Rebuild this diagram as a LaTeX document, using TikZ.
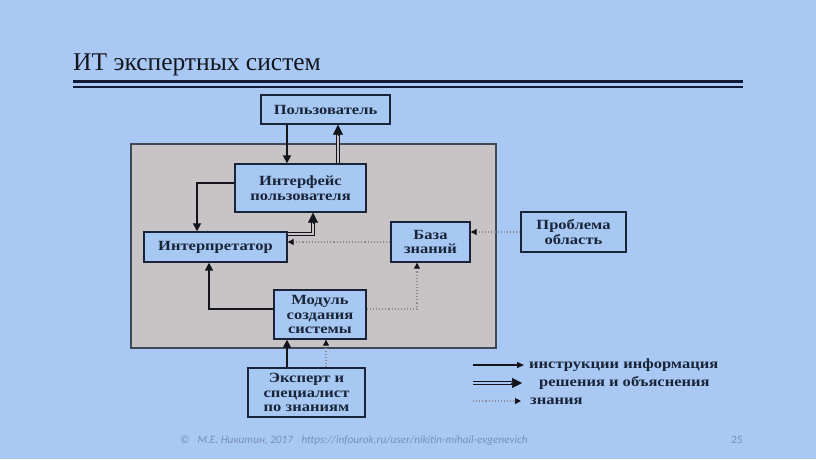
\documentclass[tikz,border=0pt]{standalone}
\usepackage{fontspec}
\setmainfont{Liberation Serif}
\newfontfamily\diagfont[FakeStretch=1.18]{Liberation Serif}
\newfontfamily\footfont{Carlito}
\usetikzlibrary{arrows.meta,calc}
\definecolor{slidebg}{RGB}{169,201,244}
\definecolor{boxfill}{RGB}{166,200,242}
\definecolor{sysgray}{RGB}{200,196,197}
\definecolor{boxline}{RGB}{26,36,56}
\definecolor{sysline}{RGB}{64,72,88}
\definecolor{arrowcol}{RGB}{20,20,28}
\definecolor{knowcol}{RGB}{140,140,150}
\definecolor{titlecol}{RGB}{20,22,30}
\definecolor{rulecol}{RGB}{16,28,56}
\definecolor{footcol}{RGB}{122,142,184}
\tikzset{
  blk/.style={draw=boxline, fill=boxfill, line width=1.4pt, inner sep=2pt, align=center,
    font=\diagfont\bfseries\fontsize{14}{14.5}\selectfont, text=boxline},
  sarrow/.style={draw=arrowcol, line width=1.7pt, -{Triangle[length=8pt,width=8pt]}},
  karrow/.style={draw=knowcol, line width=1.1pt, dotted, -{Triangle[length=6pt,width=6pt,color=arrowcol]}},
  dline/.style={draw=arrowcol, line width=1pt, double=sysgray, double distance=1.8pt, shorten >=7pt},
  dtip/.style={draw=arrowcol, line width=0.5pt, -{Triangle[length=10pt,width=10pt]}},
  legtext/.style={anchor=west, inner sep=0pt, font=\diagfont\bfseries\fontsize{14}{14.5}\selectfont, text=boxline}
}
\begin{document}
\begin{tikzpicture}[x=1pt,y=-1pt]
\fill[slidebg] (0,0) rectangle (816,459);
\useasboundingbox (0,0) rectangle (816,459);
% title
\node[anchor=base west, inner sep=0pt, text=titlecol, font=\fontsize{25.5}{28}\selectfont] (title) at (73,70) {ИТ экспертных систем};
\draw[rulecol, line width=3pt] (73,81.5) -- (743,81.5);
\draw[rulecol, line width=1.2pt] (73,87) -- (743,87);
% system area
\draw[sysline, fill=sysgray, line width=1.4pt] (131,144) rectangle (496,348);
% boxes
\node[blk, minimum width=129pt, minimum height=29pt] (user) at (325.5,109.5) {Пользователь};
\node[blk, minimum width=131pt, minimum height=48pt] (intf) at (300.5,188) {Интерфейс\\пользователя};
\node[blk, minimum width=143pt, minimum height=30pt] (interp) at (215.5,247) {Интерпретатор};
\node[blk, minimum width=79pt, minimum height=40pt] (base) at (430.5,242) {База\\знаний};
\node[blk, minimum width=92pt, minimum height=49pt] (module) at (320,314.5) {Модуль\\создания\\системы};
\node[blk, minimum width=117pt, minimum height=49pt] (expert) at (306.5,392.5) {Эксперт и\\специалист\\по знаниям};
\node[blk, minimum width=105pt, minimum height=40pt] (problem) at (573.5,232) {Проблема\\область};
% helper coordinates
\coordinate (cA) at (287,0);
\coordinate (cB) at (338,0);
\coordinate (cC) at (313,0);
\coordinate (cD) at (197,0);
\coordinate (cE) at (209,0);
\coordinate (cF) at (417,0);
\coordinate (cG) at (326,0);
\coordinate (rA) at (0,183);
\coordinate (rB) at (0,309);
% connectors
\draw[sarrow] (user.south -| cA) -- (intf.north -| cA);
\draw[dline] (intf.north -| cB) -- (user.south -| cB);
\draw[dtip] ([yshift=-11pt]user.south -| cB) -- (user.south -| cB);
\draw[sarrow] (intf.west |- rA) -| (interp.north -| cD);
\draw[dline] ([yshift=-3pt]interp.north east) -| (intf.south -| cC);
\draw[dtip] ([yshift=-11pt]intf.south -| cC) -- (intf.south -| cC);
\draw[karrow] (base.west) -- (interp.east |- base.west);
\draw[sarrow] (module.west |- rB) -| (interp.south -| cE);
\draw[karrow] (module.east |- rB) -| (base.south -| cF);
\draw[sarrow] (expert.north -| cA) -- (module.south -| cA);
\draw[karrow] (expert.north -| cG) -- (module.south -| cG);
\draw[karrow] (problem.west) -- (base.east |- problem.west);
% legend
\coordinate (l1s) at (473,365); \coordinate (l1e) at (524,365);
\coordinate (l2s) at (473,383); \coordinate (l2e) at (522,383);
\coordinate (l3s) at (473,401); \coordinate (l3e) at (521,401);
\draw[sarrow, line width=1.3pt, -{Triangle[length=7pt,width=6pt]}] (l1s) -- (l1e);
\node[legtext] (lt1) at (529,365) {инструкции информация};
\draw[dline, double=slidebg] (l2s) -- (l2e);
\draw[dtip] ([xshift=-11pt]l2e) -- (l2e);
\node[legtext] (lt2) at (539,383) {решения и объяснения};
\draw[karrow] (l3s) -- (l3e);
\node[legtext] (lt3) at (530,401) {знания};
% footer
\node[anchor=base west, inner sep=0pt, text=footcol, font=\footfont\itshape\fontsize{11.2}{12}\selectfont] (foot) at (180,443) {©\hspace{8pt}М.Е. Никитин, 2017\hspace{6pt} https://infourok.ru/user/nikitin-mihail-evgenevich};
\node[anchor=base east, inner sep=0pt, text=footcol, font=\footfont\fontsize{11.2}{12}\selectfont] (pg) at (743,443) {25};
\end{tikzpicture}
\end{document}
